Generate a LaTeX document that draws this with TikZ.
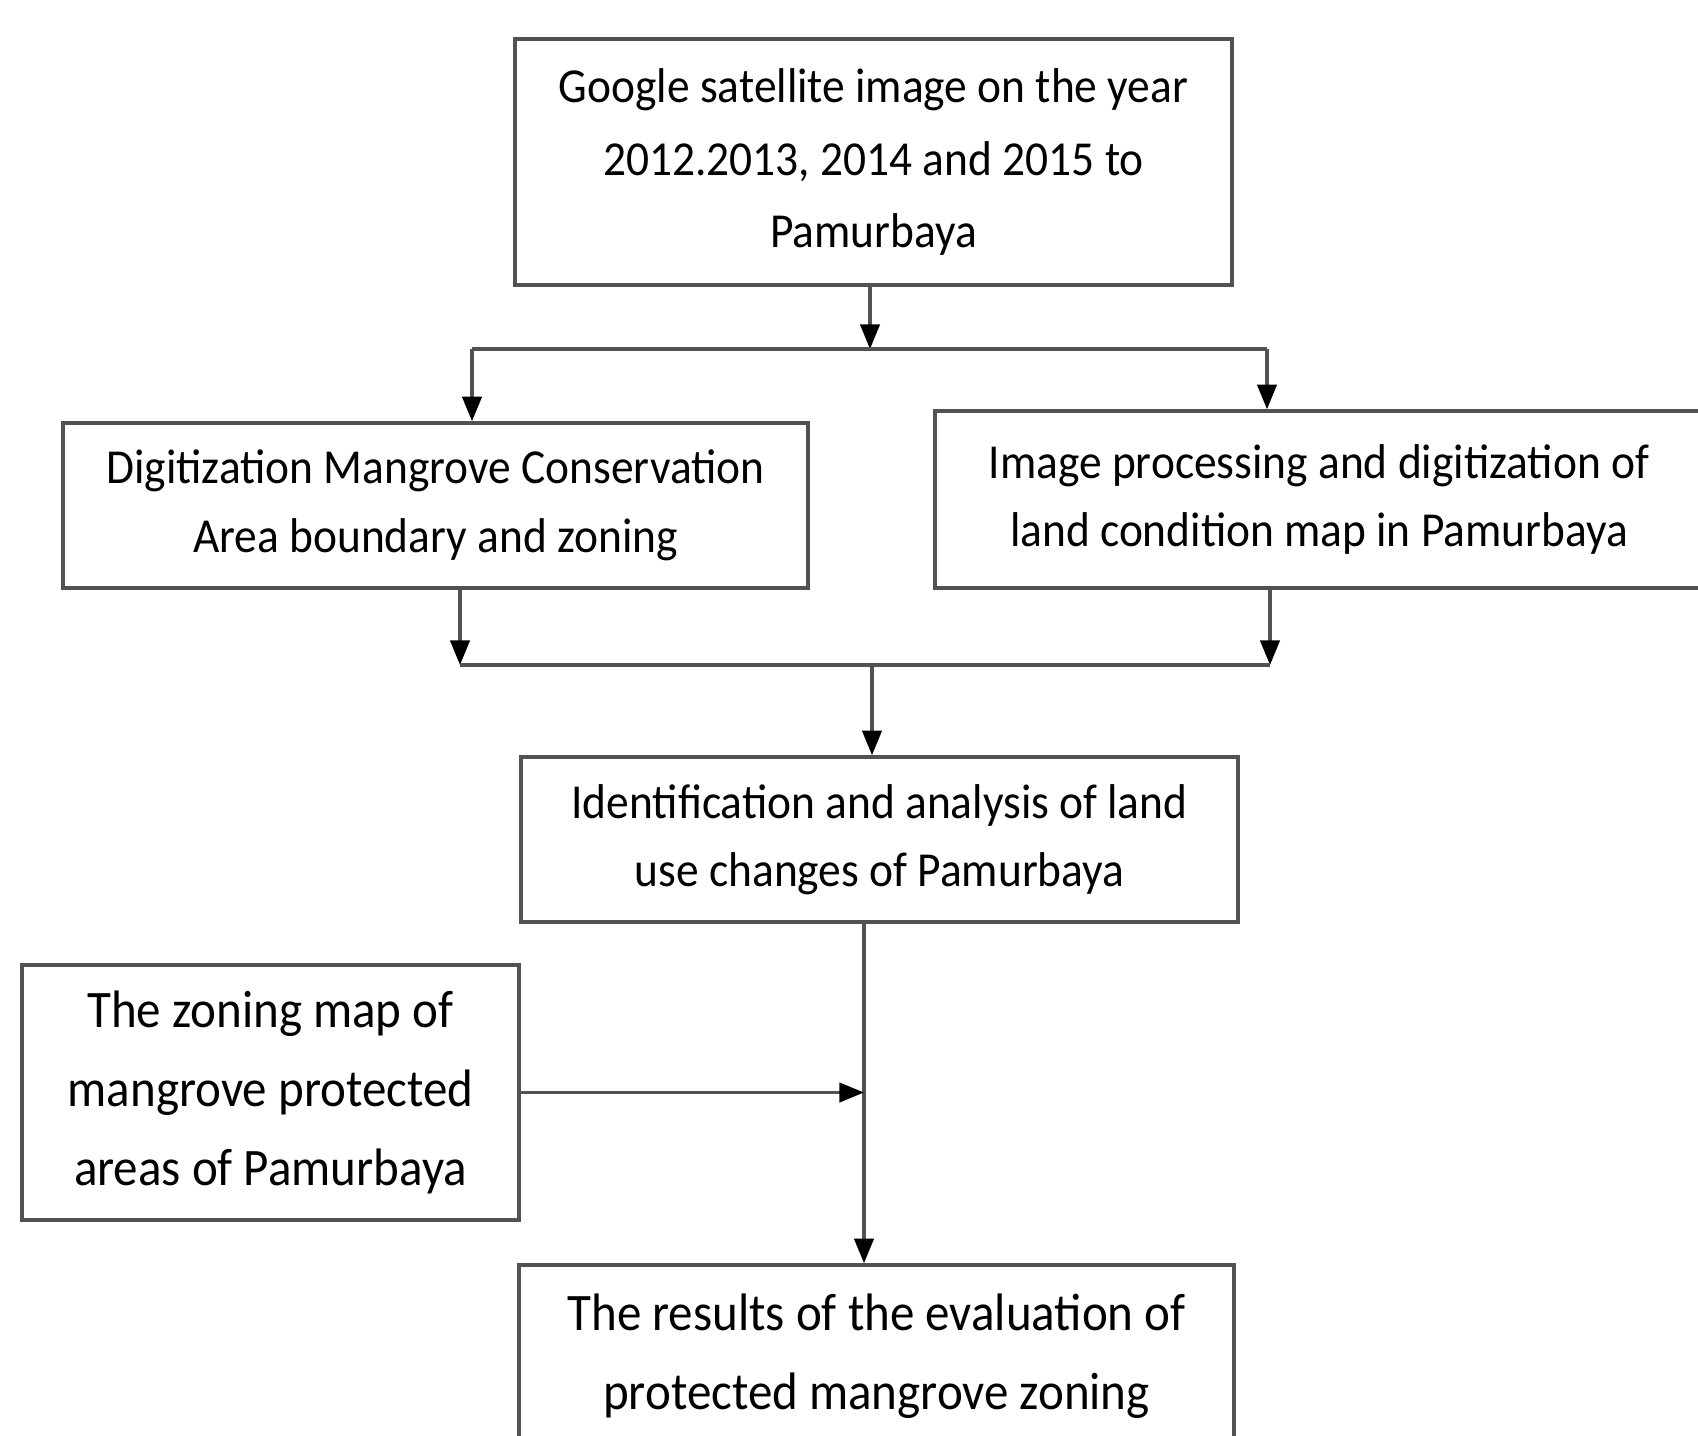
\documentclass[tikz,border=0pt]{standalone}
\usepackage{fontspec}
\setmainfont{Carlito}[FakeStretch=0.93]
\usetikzlibrary{arrows.meta}

\begin{document}
\begin{tikzpicture}[x=0.02cm, y=-0.02cm,
    stepbox/.style={draw=black!68, line width=2pt, align=center, inner sep=0pt},
    conn/.style={draw=black!68, line width=1.8pt, -{Triangle[length=14pt,width=11pt,color=black]}},
    plain/.style={draw=black!68, line width=1.8pt}]
    \path[use as bounding box, clip] (0,0) rectangle (1698,1436);
    % boxes
    \node[stepbox, minimum width=717*0.02cm, minimum height=246*0.02cm,
          font=\fontsize{27.8}{41.5}\selectfont] (img) at (873.5,162)
        {Google satellite image on the year\\2012.2013, 2014 and 2015 to\\Pamurbaya};
    \node[stepbox, minimum width=745*0.02cm, minimum height=165*0.02cm,
          font=\fontsize{27.8}{39}\selectfont] (dig) at (435.5,505.5)
        {Digitization Mangrove Conservation\\Area boundary and zoning};
    \node[stepbox, minimum width=768*0.02cm, minimum height=177*0.02cm,
          font=\fontsize{27.8}{39}\selectfont] (proc) at (1319,499.5)
        {Image processing and digitization of\\land condition map in Pamurbaya};
    \node[stepbox, minimum width=717*0.02cm, minimum height=165*0.02cm,
          font=\fontsize{27.8}{39}\selectfont] (ident) at (879.5,839.5)
        {Identification and analysis of land\\use changes of Pamurbaya};
    \node[stepbox, minimum width=497*0.02cm, minimum height=255*0.02cm,
          font=\fontsize{30}{45}\selectfont] (zmap) at (270.5,1092.5)
        {The zoning map of\\mangrove protected\\areas of Pamurbaya};
    \node[stepbox, minimum width=715*0.02cm, minimum height=182*0.02cm,
          font=\fontsize{30}{45}\selectfont] (res) at (876.5,1356)
        {The results of the evaluation of\\protected mangrove zoning};
    % split and join points
    \coordinate (split) at (870,349);
    \coordinate (splitL) at (472,349);
    \coordinate (splitR) at (1267,349);
    \coordinate (joinL) at (460,665);
    \coordinate (joinR) at (1270,665);
    \coordinate (joinM) at (872,665);
    \coordinate (trunk) at (864,922);
    % connectors
    \draw[conn] (img.south -| split) -- (split);
    \draw[plain] (splitL) -- (splitR);
    \draw[conn] (splitL) -- (splitL |- dig.north);
    \draw[conn] (splitR) -- (splitR |- proc.north);
    \draw[conn] (dig.south -| joinL) -- (joinL);
    \draw[conn] (proc.south -| joinR) -- (joinR);
    \draw[plain] (joinL) -- (joinR);
    \draw[conn] (joinM) -- (joinM |- ident.north);
    \draw[conn] (ident.south -| trunk) -- (trunk |- res.north);
    \draw[conn] (zmap.east) -- (zmap.east -| trunk);
\end{tikzpicture}
\end{document}
